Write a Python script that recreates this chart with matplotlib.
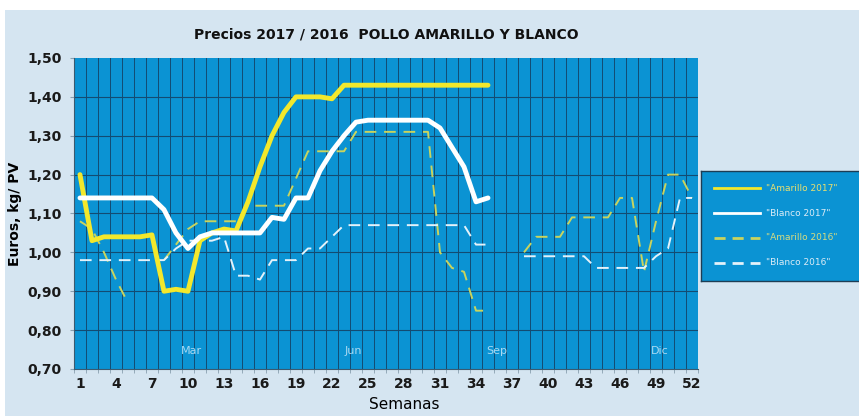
import numpy as np
import matplotlib
matplotlib.use("Agg")
import matplotlib.pyplot as plt
from matplotlib.patches import Rectangle
from matplotlib.ticker import FuncFormatter

nan = np.nan

# semanas 1..52
semanas = np.arange(1, 53)

amarillo_2017 = [1.20, 1.03, 1.04, 1.04, 1.04, 1.04, 1.045, 0.90, 0.905, 0.90,
                 1.03, 1.05, 1.06, 1.055, 1.13, 1.22, 1.30, 1.36, 1.40, 1.40,
                 1.40, 1.395, 1.43, 1.43, 1.43, 1.43, 1.43, 1.43, 1.43, 1.43,
                 1.43, 1.43, 1.43, 1.43, 1.43] + [nan] * 17

blanco_2017 = [1.14, 1.14, 1.14, 1.14, 1.14, 1.14, 1.14, 1.11, 1.05, 1.01,
               1.04, 1.05, 1.05, 1.05, 1.05, 1.05, 1.09, 1.085, 1.14, 1.14,
               1.21, 1.26, 1.30, 1.335, 1.34, 1.34, 1.34, 1.34, 1.34, 1.34,
               1.32, 1.27, 1.22, 1.13, 1.14] + [nan] * 17

amarillo_2016 = [1.08, 1.06, 1.00, 0.93, 0.87, nan, nan, 0.98, 1.02, 1.06,
                 1.08, 1.08, 1.08, 1.08, 1.12, 1.12, 1.12, 1.12, 1.19, 1.26,
                 1.26, 1.26, 1.26, 1.31, 1.31, 1.31, 1.31, 1.31, 1.31, 1.31,
                 1.00, 0.96, 0.95, 0.85, 0.85, nan, nan, 1.00, 1.04, 1.04,
                 1.04, 1.09, 1.09, 1.09, 1.09, 1.14, 1.14, 0.95, 1.08, 1.20,
                 1.20, 1.14]

blanco_2016 = [0.98, 0.98, 0.98, 0.98, 0.98, 0.98, 0.98, 0.98, 1.01, 1.03,
               1.03, 1.03, 1.04, 0.94, 0.94, 0.93, 0.98, 0.98, 0.98, 1.01,
               1.01, 1.04, 1.07, 1.07, 1.07, 1.07, 1.07, 1.07, 1.07, 1.07,
               1.07, 1.07, 1.07, 1.02, 1.02, nan, nan, 0.99, 0.99, 0.99,
               0.99, 0.99, 0.99, 0.96, 0.96, 0.96, 0.96, 0.96, 0.99, 1.01,
               1.14, 1.14]

meses = ["Mar", "Jun", "Sep", "Dic"]
meses_pos = [10.3, 23.8, 35.7, 49.3]

fondo = "#d5e5f1"
azul = "#0b93d3"
rejilla = "#134b72"

fig = plt.figure(figsize=(8.59, 4.16), dpi=100, facecolor="white")
fig.patches.append(Rectangle((0.006, 0), 0.994, 0.975, transform=fig.transFigure,
                             facecolor=fondo, edgecolor="none", zorder=-10))

ax = fig.add_axes([0.0861, 0.1130, 0.7265, 0.7476])
ax.set_facecolor(azul)

ax.plot(semanas, amarillo_2016, color="#c9d45e", lw=1.4, ls=(0, (6, 4)), zorder=3)
ax.plot(semanas, blanco_2016, color="#e4f2fa", lw=1.4, ls=(0, (6, 4)), zorder=3)
ax.plot(semanas, amarillo_2017, color="#f3e82c", lw=3.5, solid_joinstyle="round",
        solid_capstyle="round", zorder=4)
ax.plot(semanas, blanco_2017, color="white", lw=3.5, solid_joinstyle="round",
        solid_capstyle="round", zorder=5)

ax.set_xlim(0.5, 52.5)
ax.set_ylim(0.70, 1.50)

# rejilla
for x in np.arange(1.5, 52.5, 1):
    ax.axvline(x, color=rejilla, lw=0.7, zorder=1)
for y in np.arange(0.8, 1.5, 0.1):
    ax.axhline(y, color=rejilla, lw=0.8, zorder=1)

ax.set_xticks(np.arange(1, 53, 3))
ax.set_xticks(np.arange(0.5, 53, 1), minor=True)
ax.tick_params(axis="x", which="major", length=0, pad=6, labelsize=10)
ax.tick_params(axis="x", which="minor", length=3, color="#8aa0b0")
ax.set_yticks(np.arange(0.7, 1.51, 0.1))
ax.yaxis.set_major_formatter(FuncFormatter(lambda v, p: f"{v:.2f}".replace(".", ",")))
ax.tick_params(axis="y", length=3, color="#8aa0b0", labelsize=10, pad=6)
for lab in ax.get_xticklabels() + ax.get_yticklabels():
    lab.set_fontweight("bold")
    lab.set_color("#1a1a1a")

for s in ["top", "right"]:
    ax.spines[s].set_visible(False)
ax.spines["left"].set_color("#3a5a70")
ax.spines["bottom"].set_color("#3a5a70")

for m, xp in zip(meses, meses_pos):
    ax.text(xp, 0.745, m, color="#a9d9f2", fontsize=8, ha="center", va="center")

ax.set_title("Precios 2017 / 2016  POLLO AMARILLO Y BLANCO", fontsize=10,
             fontweight="bold", pad=14, color="#111111")
ax.set_ylabel("Euros, kg/ PV", fontsize=10, fontweight="bold", labelpad=4)
ax.set_xlabel("Semanas", fontsize=11, labelpad=2)
ax.xaxis.set_label_coords(0.53, -0.09)

# leyenda
lax = fig.add_axes([0.816, 0.325, 0.19, 0.265])
lax.set_facecolor(azul)
lax.set_xlim(0, 1)
lax.set_ylim(0, 1)
lax.set_xticks([])
lax.set_yticks([])
for s in lax.spines.values():
    s.set_color("#1d3d55")
    s.set_linewidth(1)
items = [
    ("\"Amarillo 2017\"", "#f3e82c", "-", "#e8e070"),
    ("\"Blanco 2017\"", "white", "-", "#dcecf6"),
    ("\"Amarillo 2016\"", "#c9d45e", (0, (4, 2.5)), "#d6dc80"),
    ("\"Blanco 2016\"", "#e4f2fa", (0, (4, 2.5)), "#dcecf6"),
]
for i, (txt, col, ls, tcol) in enumerate(items):
    yy = 0.84 - i * 0.225
    lax.plot([0.08, 0.36], [yy, yy], color=col, lw=2, ls=ls)
    lax.text(0.40, yy, txt, color=tcol, fontsize=6.5, va="center", ha="left")

plt.savefig("out.png", dpi=100, facecolor=fig.get_facecolor())
